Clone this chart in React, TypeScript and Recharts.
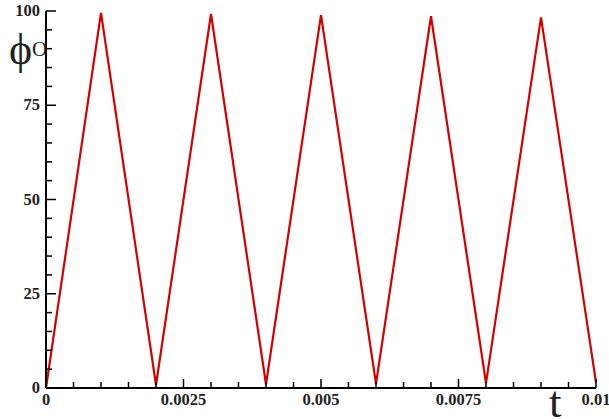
import { Line, LineChart, XAxis, YAxis } from "recharts";

// phase angle over time
const times = [0, 0.001, 0.002, 0.003, 0.004, 0.005, 0.006, 0.007, 0.008, 0.009, 0.01];
const phiValues = [0, 99.5, 0.8, 99.2, 1.0, 98.9, 1.1, 98.6, 1.3, 98.3, 1.5];

const xTicks = [
  0, 0.0005, 0.001, 0.0015, 0.002, 0.0025, 0.003, 0.0035, 0.004, 0.0045, 0.005,
  0.0055, 0.006, 0.0065, 0.007, 0.0075, 0.008, 0.0085, 0.009, 0.0095, 0.01,
];
const xLabels = ["0", "0.0025", "0.005", "0.0075", "0.01"];
const yTicks = [0, 5, 10, 15, 20, 25, 30, 35, 40, 45, 50, 55, 60, 65, 70, 75, 80, 85, 90, 95, 100];
const yLabels = ["0", "25", "50", "75", "100"];

const data = times.map((t, i) => ({ t, phi: phiValues[i] }));

const serif = "'Liberation Serif', 'DejaVu Serif', serif";

function XTick(props: any) {
  const { x, y, index } = props;
  const major = index % 5 === 0;
  return (
    <g>
      <line x1={x} x2={x} y1={y} y2={y - (major ? 9 : 6)} stroke="#000" strokeWidth={1.5} />
      {major ? (
        <text
          x={x}
          y={y + 17}
          textAnchor="middle"
          fontFamily={serif}
          fontWeight="bold"
          fontSize={16.5}
          fill="#222"
        >
          {xLabels[index / 5]}
        </text>
      ) : null}
    </g>
  );
}

function YTick(props: any) {
  const { x, y, index } = props;
  const major = index % 5 === 0;
  return (
    <g>
      <line x1={x} x2={x + (major ? 10 : 6)} y1={y} y2={y} stroke="#000" strokeWidth={1.5} />
      {major ? (
        <text
          x={x - 6}
          y={y + 5}
          textAnchor="end"
          fontFamily={serif}
          fontWeight="bold"
          fontSize={16.5}
          fill="#222"
        >
          {yLabels[index / 5]}
        </text>
      ) : null}
    </g>
  );
}

export default function App() {
  return (
    <div
      style={{
        position: "fixed",
        left: 0,
        top: 0,
        width: 609,
        height: 419,
        overflow: "hidden",
        background: "#fff",
      }}
    >
      <LineChart
        width={640}
        height={419}
        data={data}
        margin={{ top: 11, right: 44, left: 0, bottom: 0 }}
      >
        <XAxis
          dataKey="t"
          type="number"
          domain={[0, 0.01]}
          ticks={xTicks}
          interval={0}
          tickSize={0}
          tickMargin={0}
          tickLine={false}
          tick={<XTick />}
          height={31}
          axisLine={{ stroke: "#000", strokeWidth: 2 }}
        />
        <YAxis
          type="number"
          domain={[0, 100]}
          ticks={yTicks}
          interval={0}
          tickSize={0}
          tickMargin={0}
          tickLine={false}
          tick={<YTick />}
          width={46}
          axisLine={{ stroke: "#000", strokeWidth: 2 }}
        />
        <Line
          dataKey="phi"
          type="linear"
          stroke="#d40000"
          strokeWidth={2.2}
          dot={false}
          isAnimationActive={false}
        />
      </LineChart>
      <span
        style={{
          position: "absolute",
          left: 9,
          top: 28,
          fontFamily: serif,
          fontSize: 44,
          lineHeight: "44px",
          color: "#222",
        }}
      >
        ϕ
      </span>
      <span
        style={{
          position: "absolute",
          left: 32,
          top: 39,
          fontFamily: serif,
          fontSize: 21,
          lineHeight: "21px",
          color: "#222",
        }}
      >
        O
      </span>
      <span
        style={{
          position: "absolute",
          left: 549,
          top: 380,
          fontFamily: serif,
          fontSize: 45,
          lineHeight: "45px",
          color: "#222",
        }}
      >
        t
      </span>
    </div>
  );
}
